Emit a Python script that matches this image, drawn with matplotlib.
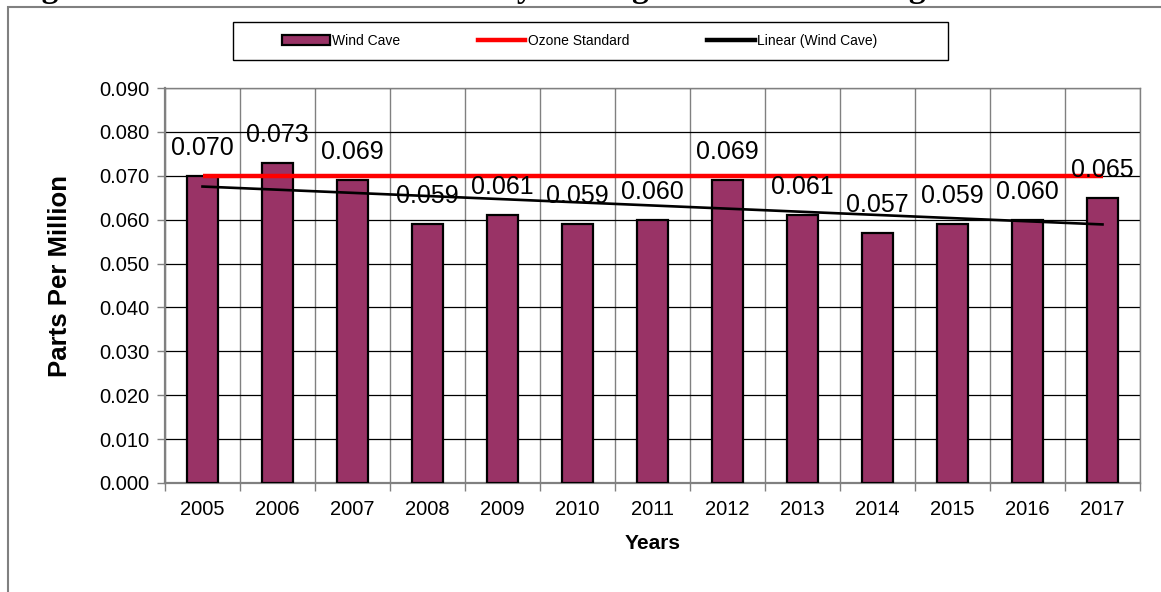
"""Wind Cave yearly ozone bars with standard + linear trend (Excel-style)."""
import numpy as np
import matplotlib
matplotlib.use("Agg")
import matplotlib.pyplot as plt
from matplotlib.patches import Rectangle, Patch
from matplotlib.lines import Line2D

# ---- data --------------------------------------------------------------
years = ["2005", "2006", "2007", "2008", "2009", "2010", "2011",
         "2012", "2013", "2014", "2015", "2016", "2017"]
wind_cave = [0.070, 0.073, 0.069, 0.059, 0.061, 0.059, 0.060,
             0.069, 0.061, 0.057, 0.059, 0.060, 0.065]
ozone_standard = [0.070] * len(years)

BAR = "#993366"
GRID = "#000000"
FRAME = "#808080"

plt.rcParams.update({
    "font.family": ["Liberation Sans", "DejaVu Sans"],
})

fig = plt.figure(figsize=(11.61, 5.92), dpi=100)
ax = fig.add_axes([165 / 1161, 109 / 592, 975 / 1161, 395 / 592])

x = np.arange(len(years))
ax.bar(x, wind_cave, width=0.41, color=BAR, edgecolor="black", lw=1.6, zorder=3)
ax.plot(x, ozone_standard, color="#ff0000", lw=3.2, zorder=4, solid_capstyle="butt")

# linear trend (least squares, like Excel's "Linear" trendline)
k, b = np.polyfit(x, wind_cave, 1)
ax.plot(x, k * x + b, color="black", lw=1.9, zorder=5)

for xi, v in zip(x, wind_cave):
    ax.annotate(f"{v:.3f}", (xi, v), xytext=(0, 20), textcoords="offset points",
                ha="center", va="center", fontsize=18, zorder=6)

ax.set_xlim(-0.5, len(years) - 0.5)
ax.set_ylim(0, 0.09)
ax.set_yticks(np.arange(0, 0.0901, 0.01))
ax.set_yticklabels([f"{t:.3f}" for t in np.arange(0, 0.0901, 0.01)])
ax.set_xticks(x)
ax.set_xticklabels(years)
ax.set_xticks(np.arange(-0.5, len(years)), minor=True)
ax.tick_params(axis="x", which="major", length=0, labelsize=14.5, pad=12)
ax.tick_params(axis="x", which="minor", length=6, width=1, color=FRAME)
ax.tick_params(axis="y", length=6, width=1, color=FRAME, labelsize=14.5, pad=5)

ax.grid(axis="y", which="major", color=GRID, lw=0.9, zorder=0)
ax.grid(axis="x", which="minor", color=FRAME, lw=1.0, zorder=0)
ax.set_axisbelow(True)
for s in ax.spines.values():
    s.set_color(FRAME)
    s.set_linewidth(1.0)
ax.spines["left"].set_linewidth(1.6)
ax.spines["bottom"].set_linewidth(1.6)

ax.set_ylabel("Parts Per Million", fontsize=18.5, fontweight="bold")
ax.yaxis.set_label_coords(-0.0954, 0.524)
ax.set_xlabel("Years", fontsize=15, fontweight="bold", labelpad=11)

# ---- legend (frame drawn separately, Excel-style wide box) -------------
fig.patches.append(Rectangle((233 / 1161, 1 - 60 / 592), 715 / 1161, 38 / 592,
                             transform=fig.transFigure, fc="white", ec="black",
                             lw=1.0, zorder=1))
handles = [Patch(fc=BAR, ec="black", lw=1.6),
           Line2D([], [], color="#ff0000", lw=3.2),
           Line2D([], [], color="black", lw=3.2)]
fig.legend(handles, ["Wind Cave", "Ozone Standard", "Linear (Wind Cave)"],
           loc="center", bbox_to_anchor=(580 / 1161, 1 - 41 / 592), ncol=3,
           frameon=False, fontsize=10, handlelength=3.4, handletextpad=0.2,
           columnspacing=5.6)

# outer chart-area frame (bottom/right run off the page)
fig.patches.append(Rectangle((8 / 1161, -0.1), 1.2, 1.1 - 7 / 592,
                             transform=fig.transFigure, fc="none", ec=FRAME, lw=1.5))

# report caption sits above the crop; only its descenders show
fig.text(12 / 1161, 1 + 3 / 592,
         "Figure 10:  Wind Cave Ozone Yearly 4th Highest 8-Hour Averages",
         fontsize=24, fontweight="bold", family=["Liberation Serif", "DejaVu Serif"],
         ha="left", va="baseline")

fig.savefig("out.png", dpi=100)
